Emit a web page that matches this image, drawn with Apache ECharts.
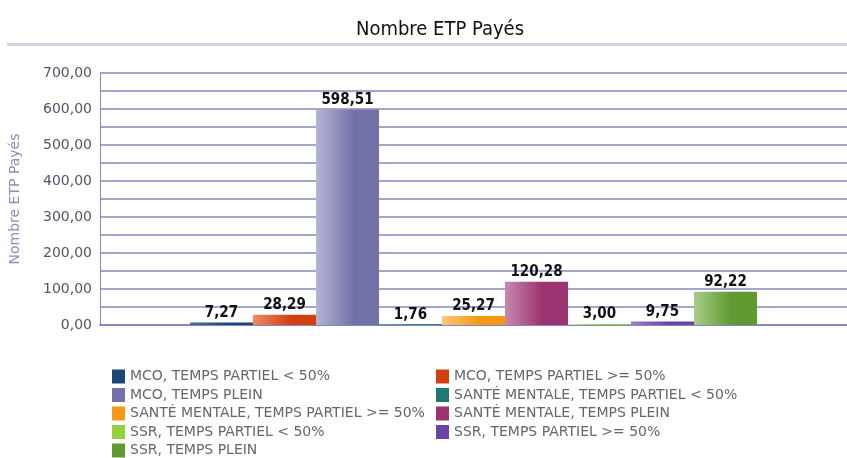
<!DOCTYPE html>
<html>
<head>
<meta charset="utf-8">
<script src="https://cdn.jsdelivr.net/npm/echarts@6/dist/echarts.min.js"></script>
<style>
  html, body { margin: 0; padding: 0; background: #fff; }
  #chart { width: 847px; height: 458px; }
</style>
</head>
<body>
<div id="chart"></div>
<script>
var categories = ["Nombre ETP Payés"];
var seriesNames = [
  "MCO, TEMPS PARTIEL < 50%",
  "MCO, TEMPS PARTIEL >= 50%",
  "MCO, TEMPS PLEIN",
  "SANTÉ MENTALE, TEMPS PARTIEL < 50%",
  "SANTÉ MENTALE, TEMPS PARTIEL >= 50%",
  "SANTÉ MENTALE, TEMPS PLEIN",
  "SSR, TEMPS PARTIEL < 50%",
  "SSR, TEMPS PARTIEL >= 50%",
  "SSR, TEMPS PLEIN"
];
var seriesValues = [7.27, 28.29, 598.51, 1.76, 25.27, 120.28, 3.00, 9.75, 92.22];
// [light edge, dark middle] per series
var seriesColors = [
  ["#4a6f9c", "#1b4677"],
  ["#ec8a68", "#d2400f"],
  ["#b4b4d4", "#7272a8"],
  ["#5aa8a0", "#1c7a72"],
  ["#fbc878", "#f59a12"],
  ["#c888b0", "#9c3270"],
  ["#c4ec90", "#92d23e"],
  ["#9a80c8", "#6a44a4"],
  ["#a8cc88", "#5e9a30"]
];
var narrowFont = "'Liberation Sans Narrow', 'DejaVu Sans Condensed', 'Roboto Condensed', sans-serif";

function fmt(v) {
  return v.toFixed(2).replace(".", ",");
}

var myChart = echarts.init(document.getElementById("chart"));

var series = [];
for (var i = 0; i < seriesNames.length; i++) {
  var c = seriesColors[i];
  series.push({
    name: seriesNames[i],
    type: "bar",
    data: [seriesValues[i]],
    barWidth: 63,
    barGap: "0%",
    itemStyle: {
      color: new echarts.graphic.LinearGradient(0, 0, 1, 0, [
        { offset: 0, color: c[0] },
        { offset: 0.6, color: c[1] },
        { offset: 1, color: c[1] }
      ])
    },
    label: {
      show: true,
      position: "top",
      distance: 2,
      color: "#111",
      fontFamily: narrowFont,
      fontWeight: "bold",
      fontSize: 15,
      formatter: function (p) { return fmt(p.value); }
    }
  });
}

var legendItem = function (name, i) {
  return { name: name, itemStyle: { color: seriesColors[i][1] } };
};
var leftCol = [], rightCol = [];
for (var j = 0; j < seriesNames.length; j++) {
  if (j % 2 === 0) leftCol.push(legendItem(seriesNames[j], j));
  else rightCol.push(legendItem(seriesNames[j], j));
}
var legendText = { color: "#666", fontFamily: "DejaVu Sans", fontSize: 14 };

myChart.setOption({
  animation: false,
  title: {
    text: "Nombre ETP Payés",
    left: 435,
    textAlign: "center",
    top: 15,
    textStyle: {
      color: "#111",
      fontFamily: narrowFont,
      fontWeight: "normal",
      fontSize: 20
    }
  },
  graphic: [{
    type: "rect",
    shape: { x: 7, y: 43, width: 840, height: 3 },
    style: { fill: "#d4d4e0" }
  }],
  legend: [{
    orient: "vertical",
    left: 112,
    top: 369.5,
    height: 90,
    padding: 0,
    itemWidth: 13,
    itemHeight: 14,
    itemGap: 4.5,
    icon: "rect",
    textStyle: legendText,
    data: leftCol
  }, {
    orient: "vertical",
    left: 436,
    top: 369.5,
    height: 90,
    padding: 0,
    itemWidth: 13,
    itemHeight: 14,
    itemGap: 4.5,
    icon: "rect",
    textStyle: legendText,
    data: rightCol
  }],
  grid: { left: 100, right: 0, top: 73, bottom: 133 },
  xAxis: {
    type: "category",
    data: categories,
    axisLine: { show: true, lineStyle: { color: "#8888b8", width: 2 } },
    axisTick: { show: false },
    axisLabel: { show: false }
  },
  yAxis: {
    type: "value",
    min: 0,
    max: 700,
    interval: 100,
    name: "Nombre ETP Payés",
    nameLocation: "middle",
    nameGap: 78,
    nameTextStyle: { color: "#8c8cb8", fontFamily: "DejaVu Sans", fontSize: 14 },
    axisLine: { show: true, lineStyle: { color: "#8888b8", width: 1 } },
    axisTick: { show: false },
    axisLabel: {
      color: "#555566",
      fontFamily: "DejaVu Sans",
      fontSize: 14,
      margin: 8,
      formatter: function (v) { return fmt(v); }
    },
    splitLine: { show: true, lineStyle: { color: "#8888b8", width: 1.5 } },
    minorTick: { show: false, splitNumber: 2 },
    minorSplitLine: { show: true, lineStyle: { color: "#8888b8", width: 1.5 } }
  },
  series: series
});
</script>
</body>
</html>
